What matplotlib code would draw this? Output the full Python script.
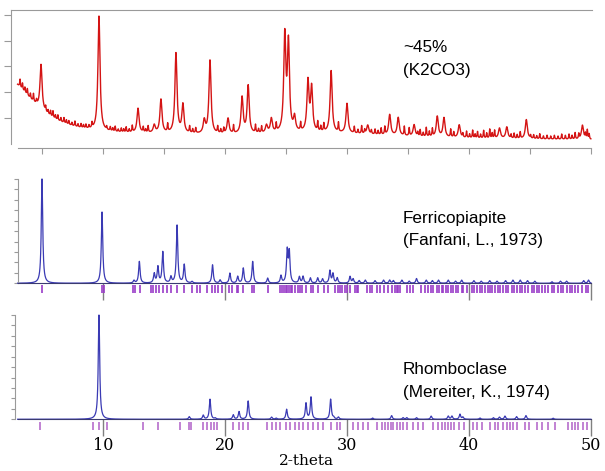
import numpy as np
import matplotlib
matplotlib.use("Agg")
import matplotlib.pyplot as plt

# ---- data (2-theta positions and relative heights) ----
# measured pattern (~45%, K2CO3): main reflections
obs_pos = [4.92, 9.67, 12.87, 14.2, 14.75, 15.98, 16.55, 18.3, 18.77, 20.25,
           21.4, 21.9, 23.4, 23.8, 24.9, 25.2, 25.7, 26.8, 27.1, 28.7,
           30.0, 31.7, 33.5, 34.2, 35.5, 37.4, 37.95, 39.2, 42.5, 43.1,
           44.7, 49.3]
obs_int = [1.75, 4.45, 0.95, 0.3, 1.3, 3.1, 1.1, 0.5, 2.85, 0.6,
           1.4, 1.85, 0.3, 0.55, 3.7, 3.4, 0.55, 1.95, 1.7, 2.4,
           1.15, 0.35, 0.8, 0.7, 0.45, 0.8, 0.75, 0.5, 0.4, 0.45,
           0.75, 0.55]
# small bumps riding on the background
obs_minor_pos = [3.2, 3.4, 3.6, 3.8, 4.05, 4.3, 4.55, 5.3, 5.5, 5.7, 5.9, 6.1,
                 6.3, 6.55, 6.8, 7.0, 7.2, 7.45, 7.7, 7.95, 8.2, 8.4, 8.6, 8.85,
                 9.1, 10.3, 10.6, 10.8, 11.0, 11.25, 11.5, 11.7, 11.9, 12.15,
                 12.4, 13.3, 13.5, 13.7, 15.3, 17.1, 17.35, 17.6, 19.4, 19.65,
                 19.9, 20.7, 22.5, 22.75, 23.0, 24.2, 26.2, 27.6, 27.85, 28.1,
                 29.3, 30.6, 30.9, 31.2, 31.45, 32.0, 32.3, 32.55, 32.8, 33.1,
                 34.7, 35.1, 35.8, 36.0, 36.25, 36.5, 36.75, 37.0, 38.5, 38.75,
                 39.5, 39.8, 40.05, 40.3, 40.5, 40.7, 40.95, 41.2, 41.45, 41.7,
                 41.9, 42.1, 43.45, 43.7, 43.95, 44.2, 45.05, 45.3, 45.55, 45.8,
                 46.1, 46.4, 46.7, 47.0, 47.3, 47.6, 47.9, 48.2, 48.45, 48.7,
                 49.0, 49.55, 49.7, 49.85]
obs_minor_int = [0.3, 0.25, 0.2, 0.25, 0.2, 0.3, 0.15, 0.2, 0.15, 0.2, 0.25, 0.15,
                 0.2, 0.15, 0.2, 0.15, 0.15, 0.12, 0.2, 0.12, 0.15, 0.12, 0.15, 0.12,
                 0.2, 0.12, 0.15, 0.12, 0.2, 0.1, 0.15, 0.12, 0.2, 0.12,
                 0.25, 0.2, 0.12, 0.25, 0.3, 0.25, 0.15, 0.2, 0.25, 0.15,
                 0.2, 0.3, 0.3, 0.15, 0.25, 0.3, 0.3, 0.35, 0.2, 0.3,
                 0.35, 0.25, 0.15, 0.3, 0.15, 0.15, 0.2, 0.15, 0.25, 0.3,
                 0.35, 0.3, 0.15, 0.25, 0.15, 0.35, 0.2, 0.3, 0.3, 0.2,
                 0.15, 0.25, 0.15, 0.3, 0.15, 0.25, 0.15, 0.3, 0.2, 0.35,
                 0.2, 0.3, 0.15, 0.2, 0.15, 0.25, 0.12, 0.15, 0.12, 0.2,
                 0.12, 0.15, 0.12, 0.15, 0.12, 0.2, 0.15, 0.2, 0.15, 0.25,
                 0.2, 0.2, 0.35, 0.2]
# broad background components (centre, height, half width)
bkg_pos = [2.0, 15.0, 28.0]
bkg_int = [2.4, 0.1, 0.25]
bkg_wid = [2.8, 6.0, 8.0]
bkg_level = 0.12

# Ferricopiapite (Fanfani, L., 1973) calculated pattern
fcp_pos = [5.0, 9.92, 12.54, 12.98, 14.2, 14.5, 14.9, 15.57, 16.07, 16.66,
           17.3, 18.98, 19.6, 20.4, 21.04, 21.5, 22.27, 23.5, 24.59, 25.1,
           25.27, 26.1, 26.4, 27.0, 27.6, 28.0, 28.6, 28.85, 29.2, 30.25,
           30.5, 31.0, 31.5, 32.3, 33.0, 33.5, 33.8, 34.5, 35.1, 35.7,
           36.5, 37.0, 37.5, 38.3, 38.9, 39.4, 40.4, 41.0, 41.7, 42.3,
           43.0, 43.6, 44.2, 44.8, 45.4, 46.8, 47.5, 48.0, 49.4, 49.8]
fcp_int = [10.0, 6.83, 0.25, 2.08, 0.9, 1.54, 2.98, 0.58, 5.54, 1.76,
           0.15, 1.76, 0.3, 0.96, 0.64, 1.44, 2.08, 0.48, 0.7, 3.04,
           2.88, 0.6, 0.64, 0.5, 0.5, 0.4, 1.19, 0.9, 0.5, 0.64,
           0.4, 0.25, 0.3, 0.25, 0.3, 0.3, 0.25, 0.3, 0.2, 0.45,
           0.3, 0.25, 0.3, 0.3, 0.2, 0.3, 0.25, 0.2, 0.25, 0.2,
           0.25, 0.3, 0.3, 0.25, 0.2, 0.15, 0.2, 0.2, 0.25, 0.3]
fcp_sticks = [5.0, 9.92, 10.08, 12.49, 12.6, 13.03, 13.93, 14.12, 14.34, 14.62,
              14.92, 15.22, 15.57, 16.04, 16.67, 17.27, 17.68, 17.95, 18.5, 18.96,
              19.18, 19.45, 19.73, 20.33, 20.55, 20.96, 21.09, 21.5, 22.24, 22.4,
              23.5, 24.51, 24.65, 24.84, 25.0, 25.11, 25.25, 25.39, 25.52, 25.74,
              25.96, 26.15, 26.3, 26.6, 27.04, 27.24, 27.65, 28.14, 28.47, 29.0,
              29.24, 29.43, 29.6, 29.84, 29.97, 30.25, 30.66, 30.8, 30.9, 31.6,
              31.87, 32.07, 32.43, 32.7, 33.05, 33.4, 33.66, 33.93, 34.1, 34.2,
              34.34, 34.9, 35.16, 35.43, 36.1, 36.4, 36.66, 36.85, 37.07, 37.34,
              37.53, 37.75, 37.9, 38.08, 38.3, 38.52, 38.71, 38.9, 39.12, 39.4,
              39.53, 39.8, 40.22, 40.43, 40.63, 40.9, 41.09, 41.31, 41.53, 41.72,
              41.91, 42.13, 42.35, 42.54, 42.81, 43.0, 43.22, 43.49, 43.71, 43.9,
              44.18, 44.37, 44.59, 44.86, 45.13, 45.32, 45.54, 45.73, 45.95, 46.23,
              46.5, 46.77, 46.99, 47.26, 47.54, 47.73, 48.0, 48.28, 48.47, 48.69,
              48.96, 49.23, 49.56, 49.78]

# Rhomboclase (Mereiter, K., 1974) calculated pattern
rhb_pos = [9.67, 17.07, 18.22, 18.77, 19.2, 20.68, 21.15, 21.9, 23.82, 24.2,
           25.05, 26.64, 27.05, 28.66, 28.9, 29.3, 32.1, 33.66, 34.6, 34.9,
           35.7, 36.9, 38.3, 38.6, 39.26, 39.5, 40.9, 42.0, 42.5, 42.95,
           43.9, 44.67, 46.9]
rhb_int = [10.0, 0.25, 0.38, 1.92, 0.1, 0.42, 0.73, 1.75, 0.2, 0.1,
           0.96, 1.53, 2.11, 1.92, 0.15, 0.2, 0.12, 0.35, 0.15, 0.15,
           0.15, 0.3, 0.3, 0.3, 0.48, 0.2, 0.12, 0.15, 0.2, 0.3,
           0.25, 0.35, 0.1]
rhb_sticks = [4.84, 9.15, 9.7, 10.3, 13.3, 14.53, 16.31, 17.07, 17.21, 18.22,
              18.55, 18.83, 19.1, 19.37, 20.68, 21.15, 21.5, 21.91, 23.42, 23.83,
              24.16, 24.51, 24.98, 25.33, 25.74, 26.09, 26.42, 26.83, 27.24, 27.65,
              28.06, 28.66, 29.16, 29.43, 30.52, 30.93, 31.34, 31.75, 32.43, 32.84,
              33.12, 33.39, 33.58, 33.8, 34.07, 34.35, 34.62, 34.89, 35.44, 35.85,
              36.26, 37.08, 37.49, 37.76, 38.03, 38.31, 38.5, 38.77, 39.21, 39.59,
              40.36, 40.63, 41.04, 41.72, 42.13, 42.41, 42.82, 43.09, 43.36, 43.64,
              43.91, 44.59, 44.95, 45.55, 45.96, 46.5, 47.05, 48.14, 48.42, 48.69,
              48.96, 49.37, 49.65]

x_ticks = [10, 20, 30, 40, 50]
x_label = "2-theta"
labels = [("~45%", "(K2CO3)"),
          ("Ferricopiapite", "(Fanfani, L., 1973)"),
          ("Rhomboclase", "(Mereiter, K., 1974)")]


def lorentz_sum(x, pos, inten, hw):
    hw = np.broadcast_to(np.asarray(hw, dtype=float), (len(pos),))
    y = np.zeros_like(x)
    for c, h, w in zip(pos, inten, hw):
        y += h / (1.0 + ((x - c) / w) ** 2)
    return y


W, H = 605, 471


def rect(left, top, right, bottom):
    return [left / W, 1 - bottom / H, (right - left) / W, (bottom - top) / H]


tt = np.arange(3.0, 50.0, 0.01)
y_obs = (bkg_level + lorentz_sum(tt, bkg_pos, bkg_int, bkg_wid)
         + lorentz_sum(tt, obs_pos, obs_int, 0.1)
         + lorentz_sum(tt, obs_minor_pos, obs_minor_int, 0.035))
y_fcp = lorentz_sum(tt, fcp_pos, fcp_int, 0.07)
y_rhb = lorentz_sum(tt, rhb_pos, rhb_int, 0.07)

fig = plt.figure(figsize=(W / 100, H / 100), dpi=100)
XL = (2.5, 50.1)
grey = "#9a9a9a"

# ---- top: measured pattern ----
ax1 = fig.add_axes(rect(11.5, 10, 592.2, 148))
ax1.plot(tt, y_obs, color="#d41414", lw=1.0)
ax1.set_xlim(*XL)
ax1.set_ylim(-0.165, 5.19)
ax1.spines["right"].set_visible(False)
for s in ("left", "top", "bottom"):
    ax1.spines[s].set_color(grey)
ax1.spines["left"].set_bounds(0, 5.19)
ax1.spines["bottom"].set_bounds(3.0, 50)
ax1.set_yticks([1, 2, 3, 4, 5])
ax1.set_xticks(np.arange(5, 51, 5))
ax1.tick_params(axis="y", length=5, color=grey, labelleft=False)
ax1.tick_params(axis="x", length=4, color=grey, labelbottom=False)

# ---- middle: Ferricopiapite ----
ax2 = fig.add_axes(rect(11.5, 175, 592.2, 300))
ax2.plot(tt, y_fcp, color="#3a3ab4", lw=0.9)
ax2.vlines(fcp_sticks, -0.9, -0.2, colors="#9a3cc8", lw=1.2)
ax2.set_xlim(*XL)
ax2.set_ylim(-1.60, 10.38)

# ---- bottom: Rhomboclase ----
ax3 = fig.add_axes(rect(11.5, 305, 592.2, 432))
ax3.plot(tt, y_rhb, color="#3a3ab4", lw=0.9)
ax3.vlines(rhb_sticks, -1.0, -0.25, colors="#b060c8", lw=1.1)
ax3.set_xlim(*XL)
ax3.set_ylim(-1.22, 10.96)

for ax, xl in ((ax2, 3.0), (ax3, 2.8)):
    ax.patch.set_visible(False)
    for s in ("top", "right"):
        ax.spines[s].set_visible(False)
    ax.spines["left"].set_position(("data", xl))
    ax.spines["left"].set_bounds(0, 10)
    ax.spines["left"].set_color(grey)
    ax.spines["bottom"].set_position(("data", 0))
    ax.spines["bottom"].set_bounds(3.0, 50)
    ax.spines["bottom"].set_color("#3a3a70")
    ax.set_yticks(range(11))
    ax.tick_params(axis="y", length=3, color=grey, labelleft=False)
    ax.set_xticks(x_ticks)
    ax.tick_params(axis="x", length=12, color="#808080", width=1)

ax2.tick_params(axis="x", labelbottom=False)
ax3.set_xticklabels([str(t) for t in x_ticks])
ax3.tick_params(axis="x", pad=1, labelsize=11.5)
for lab in ax3.get_xticklabels():
    lab.set_family("DejaVu Serif")

fig.text(306 / W, 1 - 461 / H, x_label, ha="center", va="center",
         fontsize=11, family="DejaVu Serif")

for (l1, l2), y1 in zip(labels, (48, 218, 370)):
    fig.text(403 / W, 1 - y1 / H, l1, ha="left", va="center",
             fontsize=12.3, family="Liberation Sans")
    fig.text(403 / W, 1 - (y1 + 22) / H, l2, ha="left", va="center",
             fontsize=12.3, family="Liberation Sans")

fig.savefig("out.png", dpi=100)
